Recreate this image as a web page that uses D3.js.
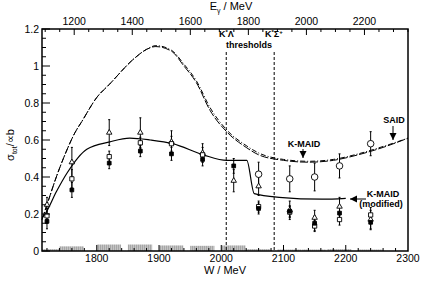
<!DOCTYPE html>
<html><head><meta charset="utf-8">
<script src="https://cdn.jsdelivr.net/npm/d3@7/dist/d3.min.js"></script>
<style>body{margin:0;background:#fff}svg{display:block;font-family:"Liberation Sans",Arial,sans-serif}</style>
</head><body><svg id="c" width="424" height="285"></svg>
<script>
// ---- data ----
const W = [1720,1760,1820,1870,1920,1970,2020,2060,2110,2150,2190,2240];
const triVal  = [0.25,0.48,0.64,0.64,0.59,0.53,0.38,0.35,0.22,0.18,0.24,0.17];
const triErr  = [0.04,0.08,0.07,0.08,0.06,0.05,0.06,0.05,0.05,0.04,0.05,0.05];
const osqVal  = [0.19,0.39,0.51,0.585,0.58,0.52,null,0.24,0.21,0.135,0.17,0.195];
const osqErr  = [0.04,0.05,0.03,0.03,0.04,0.04,null,0.03,0.03,0.03,0.03,0.04];
const fsqVal  = [0.16,0.33,0.475,0.54,0.525,0.495,0.46,0.23,0.215,0.15,0.205,0.155];
const fsqErr  = [0.04,0.04,0.03,0.03,0.035,0.035,0.04,0.03,0.03,0.04,0.04,0.04];
const circW   = [2060,2110,2150,2190,2240];
const circVal = [0.415,0.39,0.40,0.46,0.58];
const circErr = [0.065,0.07,0.075,0.065,0.065];
const sysVal  = [0.01,0.025,0.035,0.035,0.03,0.028,0.03,0.01,0.008,0.008,0.01,0.008];

const kmaidW   = [1712,1720,1735,1750,1765,1776,1800,1820,1860,1880,1895,1920,1940,1960,1982,2010,2040,2060,2100,2140,2180,2220,2260,2300];
const kmaidVal = [0.17,0.25,0.40,0.53,0.64,0.70,0.83,0.90,1.04,1.09,1.105,1.08,1.00,0.91,0.76,0.64,0.56,0.52,0.49,0.48,0.49,0.52,0.56,0.61];
const saidW    = [1712,1720,1735,1750,1765,1776,1800,1820,1860,1880,1895,1920,1940,1960,1982,2010,2040,2060,2100,2140,2180,2220,2260,2300];
const saidVal  = [0.17,0.25,0.40,0.53,0.64,0.70,0.83,0.90,1.04,1.09,1.11,1.085,1.01,0.92,0.775,0.65,0.57,0.53,0.495,0.485,0.495,0.525,0.565,0.61];
const modW     = [1712,1717,1735,1752,1784,1821,1853,1886,1922,1971,2009,2041,2053,2093,2162,2200];
const modVal   = [0.18,0.20,0.32,0.42,0.55,0.59,0.61,0.60,0.58,0.52,0.49,0.49,0.31,0.29,0.28,0.285];

const thresholds = [2008, 2085];
const xMajor = [1800,1900,2000,2100,2200,2300];
const xTopMajor = [1200,1400,1600,1800,2000,2200];
const yMajor = [0,0.2,0.4,0.6,0.8,1,1.2];

// ---- scales ----
const svg = d3.select("#c");
const L=42,R=408,T=29,B=251;
const x = d3.scaleLinear().domain([1712,2300]).range([L,R]);
const xTop = d3.scaleLinear().domain([1089,2350]).range([L,R]);
const y = d3.scaleLinear().domain([0,1.2]).range([B,T]);

// hatch pattern for systematic bars
const defs=svg.append("defs");
const pat=defs.append("pattern").attr("id","hatch").attr("patternUnits","userSpaceOnUse").attr("width",2).attr("height",4);
pat.append("rect").attr("width",2).attr("height",4).attr("fill","#c4c4c4");
pat.append("rect").attr("width",1).attr("height",4).attr("fill","#a6a6a6");

svg.append("g").selectAll("rect").data(W.map((w,i)=>({w,v:sysVal[i]}))).join("rect")
  .attr("x",d=>x(Math.max(1712,d.w-20))).attr("width",d=>x(d.w+19)-x(Math.max(1712,d.w-20)))
  .attr("y",d=>y(d.v)).attr("height",d=>B-y(d.v)).attr("fill","url(#hatch)");

// curves
const mk = (ws,vs)=>d3.line().x((d,i)=>x(ws[i])).y(d=>y(d)).curve(d3.curveMonotoneX)(vs);
svg.append("path").attr("d",mk(kmaidW,kmaidVal)).attr("fill","none").attr("stroke","#000").attr("stroke-width",1).attr("stroke-dasharray","8,2");
svg.append("path").attr("d",mk(saidW,saidVal)).attr("fill","none").attr("stroke","#000").attr("stroke-width",1).attr("stroke-dasharray","5,2,1,2");
svg.append("path").attr("d",mk(modW,modVal)).attr("fill","none").attr("stroke","#000").attr("stroke-width",1.2);

// threshold lines
svg.append("g").selectAll("line").data(thresholds).join("line")
  .attr("x1",d=>x(d)).attr("x2",d=>x(d)).attr("y1",52).attr("y2",B)
  .attr("stroke","#000").attr("stroke-width",1).attr("stroke-dasharray","3,2");

// error bars + markers
function errs(ws,vs,es){
  const g=svg.append("g").attr("stroke","#000").attr("stroke-width",1);
  ws.forEach((w,i)=>{ if(vs[i]==null) return;
    const cx=x(w);
    g.append("line").attr("x1",cx).attr("x2",cx).attr("y1",y(vs[i]-es[i])).attr("y2",y(vs[i]+es[i]));
    [vs[i]-es[i],vs[i]+es[i]].forEach(v=>g.append("line").attr("x1",cx-1).attr("x2",cx+1).attr("y1",y(v)).attr("y2",y(v)));
  });
}
errs(W,triVal,triErr); errs(W,osqVal,osqErr); errs(W,fsqVal,fsqErr); errs(circW,circVal,circErr);

const sym=(type,size)=>d3.symbol().type(type).size(size)();
function markers(ws,vs,type,size,fill){
  svg.append("g").selectAll("path").data(ws.map((w,i)=>({w,v:vs[i]})).filter(d=>d.v!=null)).join("path")
   .attr("d",sym(type,size)).attr("transform",d=>`translate(${x(d.w)},${y(d.v)})`)
   .attr("fill",fill).attr("stroke","#000").attr("stroke-width",0.9);
}
markers(W,triVal,d3.symbolTriangle,13,"#fff");
markers(W,osqVal,d3.symbolSquare,18,"#fff");
markers(W,fsqVal,d3.symbolSquare,14,"#000");
markers(circW,circVal,d3.symbolCircle,34,"#fff");

// frame
svg.append("rect").attr("x",L).attr("y",T).attr("width",R-L).attr("height",B-T).attr("fill","none").attr("stroke","#000").attr("stroke-width",1.5);

// ticks
const tk=svg.append("g").attr("stroke","#000").attr("stroke-width",1);
d3.range(1720,2300,20).forEach(v=>{const big=v%100===0; tk.append("line").attr("x1",x(v)).attr("x2",x(v)).attr("y1",B).attr("y2",B-(big?6:3));});
d3.range(1100,2351,50).forEach(v=>{if(xTop(v)>R) return; const big=v%200===0; tk.append("line").attr("x1",xTop(v)).attr("x2",xTop(v)).attr("y1",T).attr("y2",T+(big?6:3));});
d3.range(0,1.2001,0.05).forEach(v=>{const big=Math.abs(v*5-Math.round(v*5))<1e-6; tk.append("line").attr("x1",L).attr("x2",L+(big?8:4)).attr("y1",y(v)).attr("y2",y(v));});

// tick labels
const fs=10.5;
svg.append("g").selectAll("text").data(xMajor).join("text").attr("x",d=>x(d)).attr("y",262).attr("text-anchor","middle").attr("font-size",fs).text(d=>d);
svg.append("g").selectAll("text").data(xTopMajor).join("text").attr("x",d=>xTop(d)).attr("y",25).attr("text-anchor","middle").attr("font-size",fs).text(d=>d);
svg.append("g").selectAll("text").data(yMajor).join("text").attr("x",39).attr("y",d=>y(d)+4).attr("text-anchor","end").attr("font-size",fs).text(d=>String(d));

// axis titles
svg.append("text").attr("x",225).attr("y",274).attr("text-anchor","middle").attr("font-size",11).text("W / MeV");
const et=svg.append("text").attr("x",231).attr("y",10).attr("text-anchor","middle").attr("font-size",11);
et.append("tspan").text("E"); et.append("tspan").attr("font-size",7).attr("dy",3).text("γ"); et.append("tspan").attr("dy",-3).text(" / MeV");
const yt=svg.append("text").attr("transform","translate(14,145) rotate(-90)").attr("text-anchor","middle").attr("font-size",11);
yt.append("tspan").text("σ"); yt.append("tspan").attr("font-size",7).attr("dy",3).text("tot"); yt.append("tspan").attr("dy",-3).text("/∝b");

// annotations
const bold=(t,xx,yy,anchor)=>svg.append("text").attr("x",xx).attr("y",yy).attr("text-anchor",anchor||"start").attr("font-size",9).attr("font-weight","bold").text(t);
const k1=svg.append("text").attr("x",219).attr("y",37).attr("font-size",9).attr("font-weight","bold");
k1.append("tspan").text("K"); k1.append("tspan").attr("font-size",6).attr("dy",-3).text("*"); k1.append("tspan").attr("dy",3).text("Λ");
const k2=svg.append("text").attr("x",265).attr("y",37).attr("font-size",9).attr("font-weight","bold");
k2.append("tspan").text("K"); k2.append("tspan").attr("font-size",6).attr("dy",-3).text("*"); k2.append("tspan").attr("dy",3).text("Σ"); k2.append("tspan").attr("font-size",6).attr("dy",-3).text("+");
bold("thresholds",249,48,"middle");
bold("K-MAID",304,147,"middle");
bold("SAID",394,123,"middle");
bold("K-MAID",383,197,"middle");
bold("(modified)",381,207,"middle");

// arrows
function arrow(x1,y1,x2,y2){
  svg.append("line").attr("x1",x1).attr("y1",y1).attr("x2",x2).attr("y2",y2).attr("stroke","#000").attr("stroke-width",1);
  const a=Math.atan2(y2-y1,x2-x1), l=7, w=3.5;
  const p=[[x2,y2],[x2-l*Math.cos(a)+w*Math.sin(a),y2-l*Math.sin(a)-w*Math.cos(a)],[x2-l*Math.cos(a)-w*Math.sin(a),y2-l*Math.sin(a)+w*Math.cos(a)]];
  svg.append("path").attr("d","M"+p.join("L")+"Z").attr("fill","#000");
}
arrow(303,149,303,158);
arrow(393,126,393,140);
arrow(366,199,350,199);
</script></body></html>
